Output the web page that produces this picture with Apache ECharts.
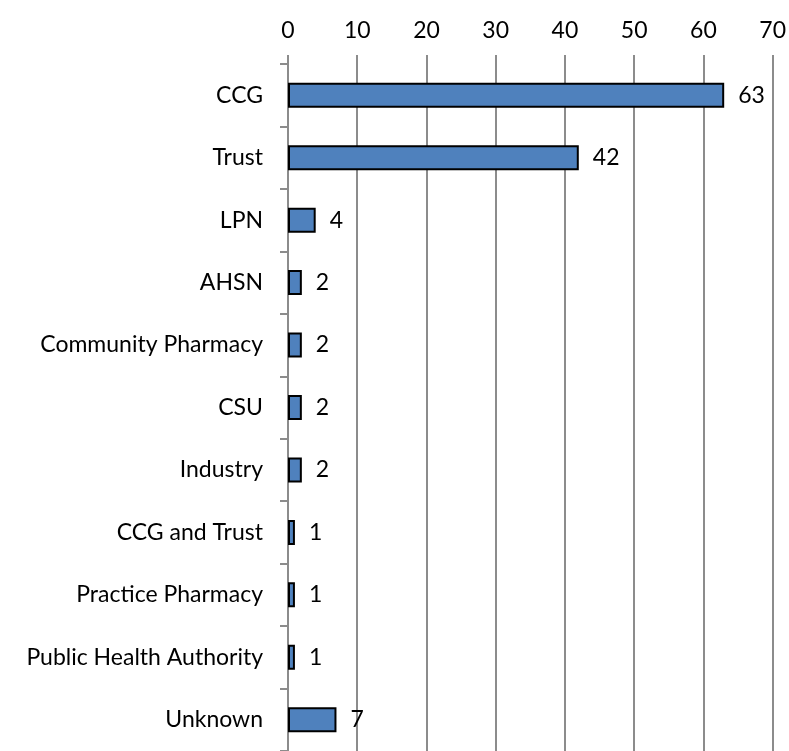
<!DOCTYPE html>
<html>
<head>
<meta charset="utf-8">
<script src="https://cdn.jsdelivr.net/npm/echarts@6/dist/echarts.min.js"></script>
<style>
  html, body { margin: 0; padding: 0; background: #fff; }
  #main { width: 789px; height: 751px; }
</style>
</head>
<body>
<div id="main"></div>
<script>
var categories = ['CCG', 'Trust', 'LPN', 'AHSN', 'Community Pharmacy', 'CSU', 'Industry',
    'CCG and Trust', 'Practice Pharmacy', 'Public Health Authority', 'Unknown']
var counts = [63, 42, 4, 2, 2, 2, 2, 1, 1, 1, 7]
var tickValues = [0, 10, 20, 30, 40, 50, 60, 70]

var chart = echarts.init(document.getElementById('main'))

var font = 'Lato'
var option = {
    animation: false,
    grid: {
        left: 288,
        right: 15,
        top: 64,
        bottom: -10
    },
    xAxis: {
        type: 'value',
        position: 'top',
        min: tickValues[0],
        max: tickValues[tickValues.length - 1],
        interval: 10,
        axisLine: { show: false },
        axisTick: {
            show: true,
            length: 9,
            lineStyle: { color: '#8c8c8c', width: 2 }
        },
        axisLabel: {
            color: '#000',
            fontSize: 23,
            fontFamily: font,
            margin: 22
        },
        splitLine: {
            show: true,
            lineStyle: { color: '#8c8c8c', width: 2 }
        }
    },
    yAxis: {
        type: 'category',
        inverse: true,
        data: categories,
        axisLine: {
            show: true,
            lineStyle: { color: '#8c8c8c', width: 2 }
        },
        axisTick: {
            show: true,
            length: 8,
            lineStyle: { color: '#8c8c8c', width: 2 }
        },
        axisLabel: {
            color: '#000',
            fontSize: 23,
            fontFamily: font,
            margin: 25
        }
    },
    series: [{
        type: 'bar',
        data: counts,
        barWidth: 25,
        itemStyle: {
            color: '#4f81bd',
            borderColor: '#000',
            borderWidth: 2
        },
        label: {
            show: true,
            position: 'right',
            distance: 14,
            color: '#000',
            fontSize: 23,
            fontFamily: font
        }
    }]
}
chart.setOption(option)
</script>
</body>
</html>
